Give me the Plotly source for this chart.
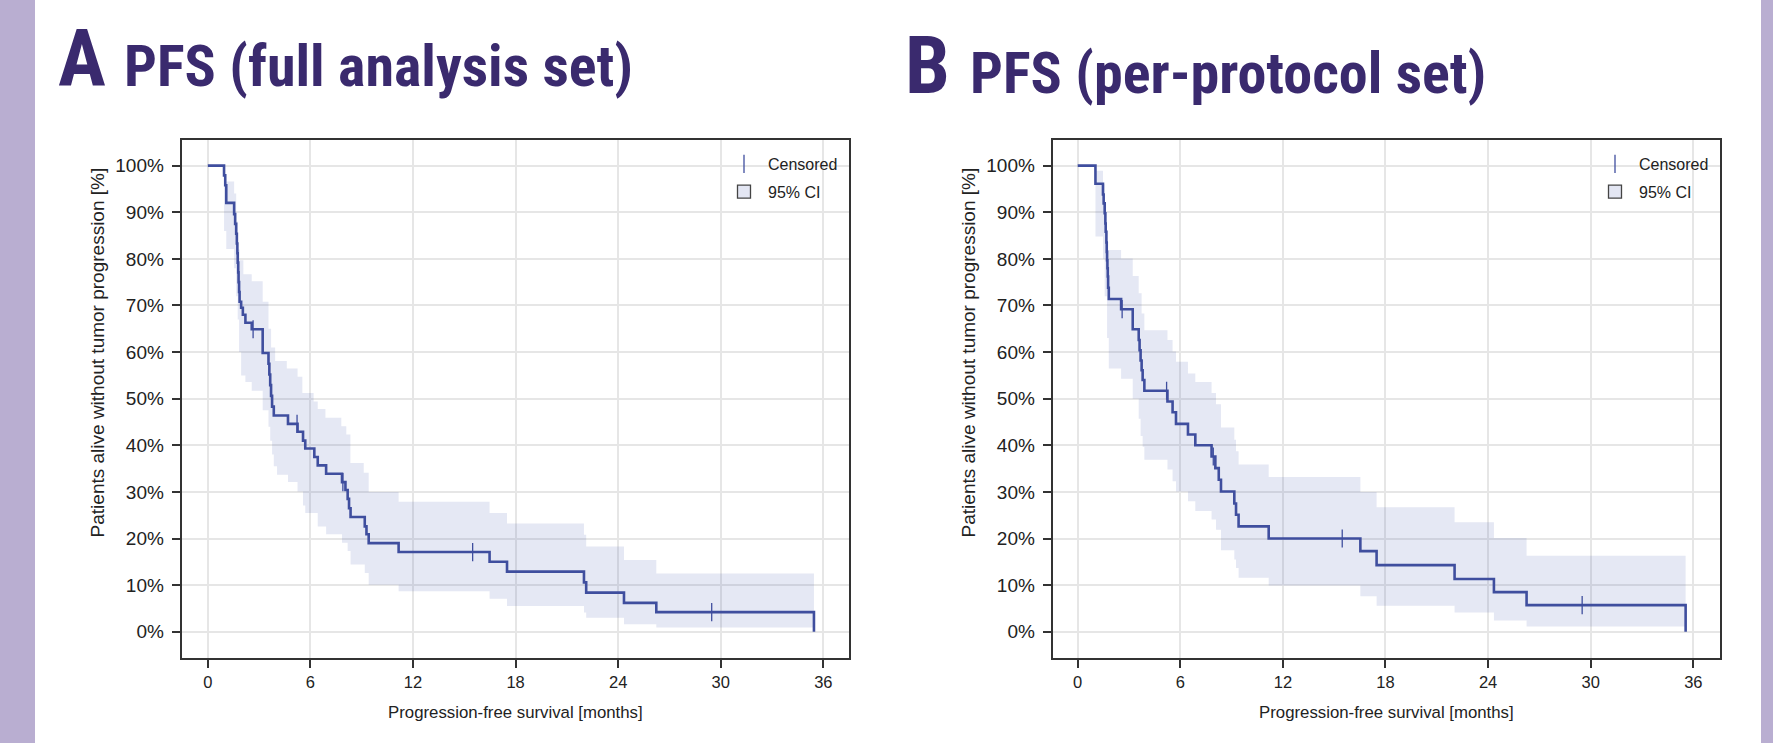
import plotly.graph_objects as go

W, H = 1773, 743

# ---------------- data: Panel A (full analysis set) ----------------
fa_time = [0, 0.95, 1.02, 1.08, 1.54, 1.60, 1.66, 1.70, 1.73, 1.75, 1.78, 1.80, 1.83, 1.86,
           1.95, 2.05, 2.20, 2.57, 3.21, 3.55, 3.60, 3.65, 3.70, 3.76, 3.86, 4.69, 5.25, 5.57,
           5.70, 6.23, 6.43, 6.92, 7.85, 8.05, 8.18, 8.26, 8.35, 9.18, 9.28, 9.41, 11.16, 16.48,
           17.50, 22.00, 22.13, 24.34, 26.23, 35.45]
fa_surv = [100, 97.9, 95.8, 92.0, 89.6, 87.5, 85.4, 83.3, 81.2, 79.2, 77.1, 75.0, 72.9, 70.8,
           69.5, 68.0, 66.3, 64.9, 59.8, 57.5, 55.2, 52.9, 50.6, 48.3, 46.4, 44.6, 42.9, 41.0,
           39.3, 37.5, 35.7, 33.9, 32.1, 30.4, 28.5, 26.5, 24.6, 22.6, 20.9, 19.0, 17.1, 15.0,
           12.9, 10.6, 8.4, 6.2, 4.2, 0]
fa_cens_time = [2.65, 5.22, 7.90, 15.49, 29.47]
fa_cens_surv = [64.9, 44.6, 32.1, 17.1, 4.2]
fa_hi_time = [0.95, 1.54, 1.66, 1.75, 1.86, 2.08, 2.57, 3.21, 3.55, 3.70, 3.94, 4.62, 5.25,
              5.53, 6.19, 6.43, 6.88, 7.81, 8.10, 8.34, 9.12, 9.41, 11.16, 16.48, 17.50, 22.00,
              22.13, 24.34, 26.23, 35.45]
fa_hi = [96.6, 94, 88, 82, 79.7, 76.7, 75.2, 70.8, 65, 61, 58.1, 56.5, 54.7,
         51.2, 49.4, 47.8, 45.9, 44.1, 42.3, 36.2, 34.1, 30.0, 27.9, 25.5, 23.2, 20.8,
         18.3, 15.4, 12.5, 12.5]
fa_lo_time = [0.95, 1.08, 1.54, 1.66, 1.75, 1.83, 1.95, 2.20, 2.57, 3.21, 3.55, 3.65, 3.76,
              3.86, 4.05, 4.69, 5.25, 5.57, 5.70, 6.43, 6.92, 7.85, 8.18, 8.35, 9.18, 9.41,
              11.16, 16.48, 17.50, 22.00, 22.13, 24.34, 26.23, 35.45]
fa_lo = [86, 82.1, 78, 72, 67, 60, 55, 53.6, 51.7, 47.5, 44, 41, 38,
         35.5, 33.7, 32.1, 30.1, 27.1, 25.5, 22.6, 20.9, 19.1, 17.3, 14.4, 12.6, 10.1,
         8.7, 7.1, 5.5, 4.1, 3.0, 1.6, 0.9, 0.9]

# ---------------- data: Panel B (per-protocol set) ----------------
pp_time = [0, 1.04, 1.48, 1.52, 1.58, 1.62, 1.64, 1.68, 1.70, 1.72, 1.74, 1.76, 1.78, 1.82,
           2.54, 3.22, 3.57, 3.62, 3.68, 3.74, 3.80, 3.90, 5.25, 5.55, 5.75, 6.45, 6.88, 7.83,
           8.05, 8.25, 8.38, 9.16, 9.26, 9.41, 11.17, 16.53, 17.48, 22.04, 24.34, 26.25, 35.55]
pp_surv = [100, 96.1, 93.8, 91.9, 89.8, 87.6, 85.8, 83.5, 81.5, 79.7, 78.0, 76.2, 73.8, 71.4,
           69.2, 64.9, 62.6, 60.4, 58.2, 56.1, 54.0, 51.7, 49.4, 47.1, 44.6, 42.3, 40.0, 37.6,
           35.1, 32.6, 30.1, 27.5, 25.1, 22.6, 20.0, 17.3, 14.3, 11.3, 8.5, 5.7, 0]
pp_cens_time = [2.60, 5.20, 7.93, 15.47, 29.50]
pp_cens_surv = [69.2, 51.7, 37.6, 20.0, 5.7]
pp_hi_time = [1.04, 1.48, 1.58, 1.66, 1.72, 2.54, 3.22, 3.57, 3.74, 3.90, 5.25, 5.55, 5.75,
              6.45, 6.88, 7.83, 8.09, 8.38, 9.16, 9.26, 9.41, 11.17, 16.53, 17.48, 22.04,
              24.34, 26.25, 35.55]
pp_hi = [98.9, 96, 92, 87, 81.9, 80.1, 76.3, 72.6, 68.3, 64.7, 62.6, 60.1, 57.9,
         55.4, 53.6, 51.2, 48.8, 43.8, 41.2, 38.7, 35.9, 33.2, 30.0, 26.7, 23.5,
         20.1, 16.3, 16.3]
pp_lo_time = [1.04, 1.48, 1.58, 1.72, 1.82, 2.54, 3.22, 3.57, 3.68, 3.80, 3.90, 5.25, 5.55,
              5.75, 6.45, 6.88, 7.83, 8.09, 8.38, 9.16, 9.26, 9.41, 11.17, 16.53, 17.48,
              22.04, 24.34, 26.25, 35.55]
pp_lo = [84.8, 80, 72, 63, 56.5, 54.3, 50, 45.7, 42, 39.7, 36.9, 34.8, 32.3,
         30.1, 28.0, 25.9, 24.1, 21.9, 17.5, 15.5, 13.7, 11.6, 9.9, 7.6, 5.6,
         4.1, 2.4, 1.1, 1.1]

x_ticks = [0, 6, 12, 18, 24, 30, 36]
y_ticks = [0, 10, 20, 30, 40, 50, 60, 70, 80, 90, 100]
y_ticktext = ["%d%%" % v for v in y_ticks]
x_title = "Progression-free survival [months]"
y_title = "Patients alive without tumor progression [%]"
panel_letters = ["A", "B"]
panel_titles = ["PFS (full analysis set)", "PFS (per-protocol set)"]

# ---------------- style ----------------
LINE = "#3f4e9e"
BAND = "rgba(70,90,180,0.14)"
TITLE_COL = "#3a2a6e"
BAR_COL = "#b9aed1"
FONT = "Liberation Sans, Arial, Helvetica, sans-serif"
TFONT = "Liberation Sans Narrow, Arial Narrow, Roboto Condensed, DejaVu Sans Condensed, sans-serif"

fig = go.Figure()

censor_marker = dict(symbol="line-ns-open", size=13, color=LINE, line=dict(color=LINE, width=1.3))

panels = [
    (fa_time, fa_surv, fa_cens_time, fa_cens_surv, fa_hi_time, fa_hi, fa_lo_time, fa_lo, "x", "y", "legend"),
    (pp_time, pp_surv, pp_cens_time, pp_cens_surv, pp_hi_time, pp_hi, pp_lo_time, pp_lo, "x2", "y2", "legend2"),
]
for (t, s, ct, cs, ht, hi, lt, lo, xa, ya, lg) in panels:
    fig.add_trace(go.Scatter(x=lt, y=lo, xaxis=xa, yaxis=ya, mode="lines", line=dict(width=0, shape="hv"),
                             showlegend=False, hoverinfo="skip"))
    fig.add_trace(go.Scatter(x=ht, y=hi, xaxis=xa, yaxis=ya, mode="lines", line=dict(width=0, shape="hv"),
                             fill="tonexty", fillcolor=BAND, showlegend=False, hoverinfo="skip"))
    fig.add_trace(go.Scatter(x=t, y=s, xaxis=xa, yaxis=ya, mode="lines",
                             line=dict(color=LINE, width=2.6, shape="hv"), showlegend=False))
    fig.add_trace(go.Scatter(x=ct, y=cs, xaxis=xa, yaxis=ya, mode="markers",
                             marker=censor_marker, showlegend=False))
    # legend entries
    fig.add_trace(go.Scatter(x=[None], y=[None], xaxis=xa, yaxis=ya, mode="markers", name="Censored",
                             marker=censor_marker, legend=lg, legendgroup=lg + "c"))
    fig.add_trace(go.Scatter(x=[None], y=[None], xaxis=xa, yaxis=ya, mode="markers", name="95% CI",
                             marker=dict(symbol="square", size=13, color="#e3e6f3",
                                         line=dict(color="#444", width=1.3)),
                             legend=lg, legendgroup=lg + "ci"))

def px(v):
    return v / W

def py(v):
    return 1 - v / H

axis_common = dict(
    showgrid=True, gridcolor="#e6e6e6", gridwidth=1.5, zeroline=False,
    showline=True, linecolor="#333333", linewidth=2, mirror=True,
    ticks="outside", ticklen=8, tickwidth=1.5, tickcolor="#333333",
)
xtick_font = dict(family=FONT, size=16.5, color="#222222")
ytick_font = dict(family=FONT, size=19, color="#222222")

ydom = [py(658.3), py(140)]
legend_common = dict(xanchor="left", yanchor="top", bgcolor="rgba(0,0,0,0)",
                     font=dict(family=FONT, size=16, color="#222222"), itemwidth=38,
                     tracegroupgap=4, traceorder="grouped")
fig.update_layout(
    width=W, height=H, margin=dict(l=0, r=0, t=0, b=0),
    paper_bgcolor="white", plot_bgcolor="white",
    font=dict(family=FONT, color="#222222"),
    xaxis=dict(domain=[px(181.7), px(849)], range=[-1.526, 37.50], tickvals=x_ticks, tickfont=xtick_font,
               title=dict(text=x_title, font=dict(family=FONT, size=16.8, color="#222222"), standoff=16),
               anchor="y", **axis_common),
    yaxis=dict(domain=ydom, range=[-5.7, 105.5], tickvals=y_ticks, ticktext=y_ticktext, tickfont=ytick_font,
               ticklabelstandoff=4, anchor="x", **axis_common),
    xaxis2=dict(domain=[px(1052.7), px(1720)], range=[-1.46, 37.56], tickvals=x_ticks, tickfont=xtick_font,
                title=dict(text=x_title, font=dict(family=FONT, size=16.8, color="#222222"), standoff=16),
                anchor="y2", **axis_common),
    yaxis2=dict(domain=ydom, range=[-5.7, 105.5], tickvals=y_ticks, ticktext=y_ticktext, tickfont=ytick_font,
                ticklabelstandoff=4, anchor="x2", **axis_common),
    legend=dict(x=px(720), y=py(147), **legend_common),
    legend2=dict(x=px(1591), y=py(147), **legend_common),
    showlegend=True,
)

# decorative side bars
fig.add_shape(type="rect", xref="paper", yref="paper", x0=0, x1=px(35), y0=0, y1=1,
              fillcolor=BAR_COL, line=dict(width=0), layer="below")
fig.add_shape(type="rect", xref="paper", yref="paper", x0=px(1761), x1=1, y0=0, y1=1,
              fillcolor=BAR_COL, line=dict(width=0), layer="below")

# panel titles
title_specs = [
    (panel_letters[0], panel_titles[0], 56, 121.5, 85.6),
    (panel_letters[1], panel_titles[1], 903, 968, 92.0),
]
for letter, ttl, xl, xt, base in title_specs:
    fig.add_annotation(text="<b>%s</b>" % letter, xref="paper", yref="paper", x=px(xl), y=py(base - 0.33 * 80),
                       xanchor="left", yanchor="middle", showarrow=False,
                       font=dict(family=TFONT, size=80, color=TITLE_COL))
    fig.add_annotation(text="<b>%s</b>" % ttl, xref="paper", yref="paper", x=px(xt), y=py(base - 0.33 * 58),
                       xanchor="left", yanchor="middle", showarrow=False,
                       font=dict(family=TFONT, size=58, color=TITLE_COL))

# rotated y-axis titles
for xc in [98.4, 969.4]:
    fig.add_annotation(text=y_title, xref="paper", yref="paper", x=px(xc), y=py(352),
                       xanchor="center", yanchor="middle", textangle=-90, showarrow=False,
                       font=dict(family=FONT, size=19, color="#222222"))

fig.write_html("out.html", config={"displayModeBar": False},
               post_script="document.documentElement.style.overflow='hidden';"
                           "document.body.style.margin='0';document.body.style.overflow='hidden';")
